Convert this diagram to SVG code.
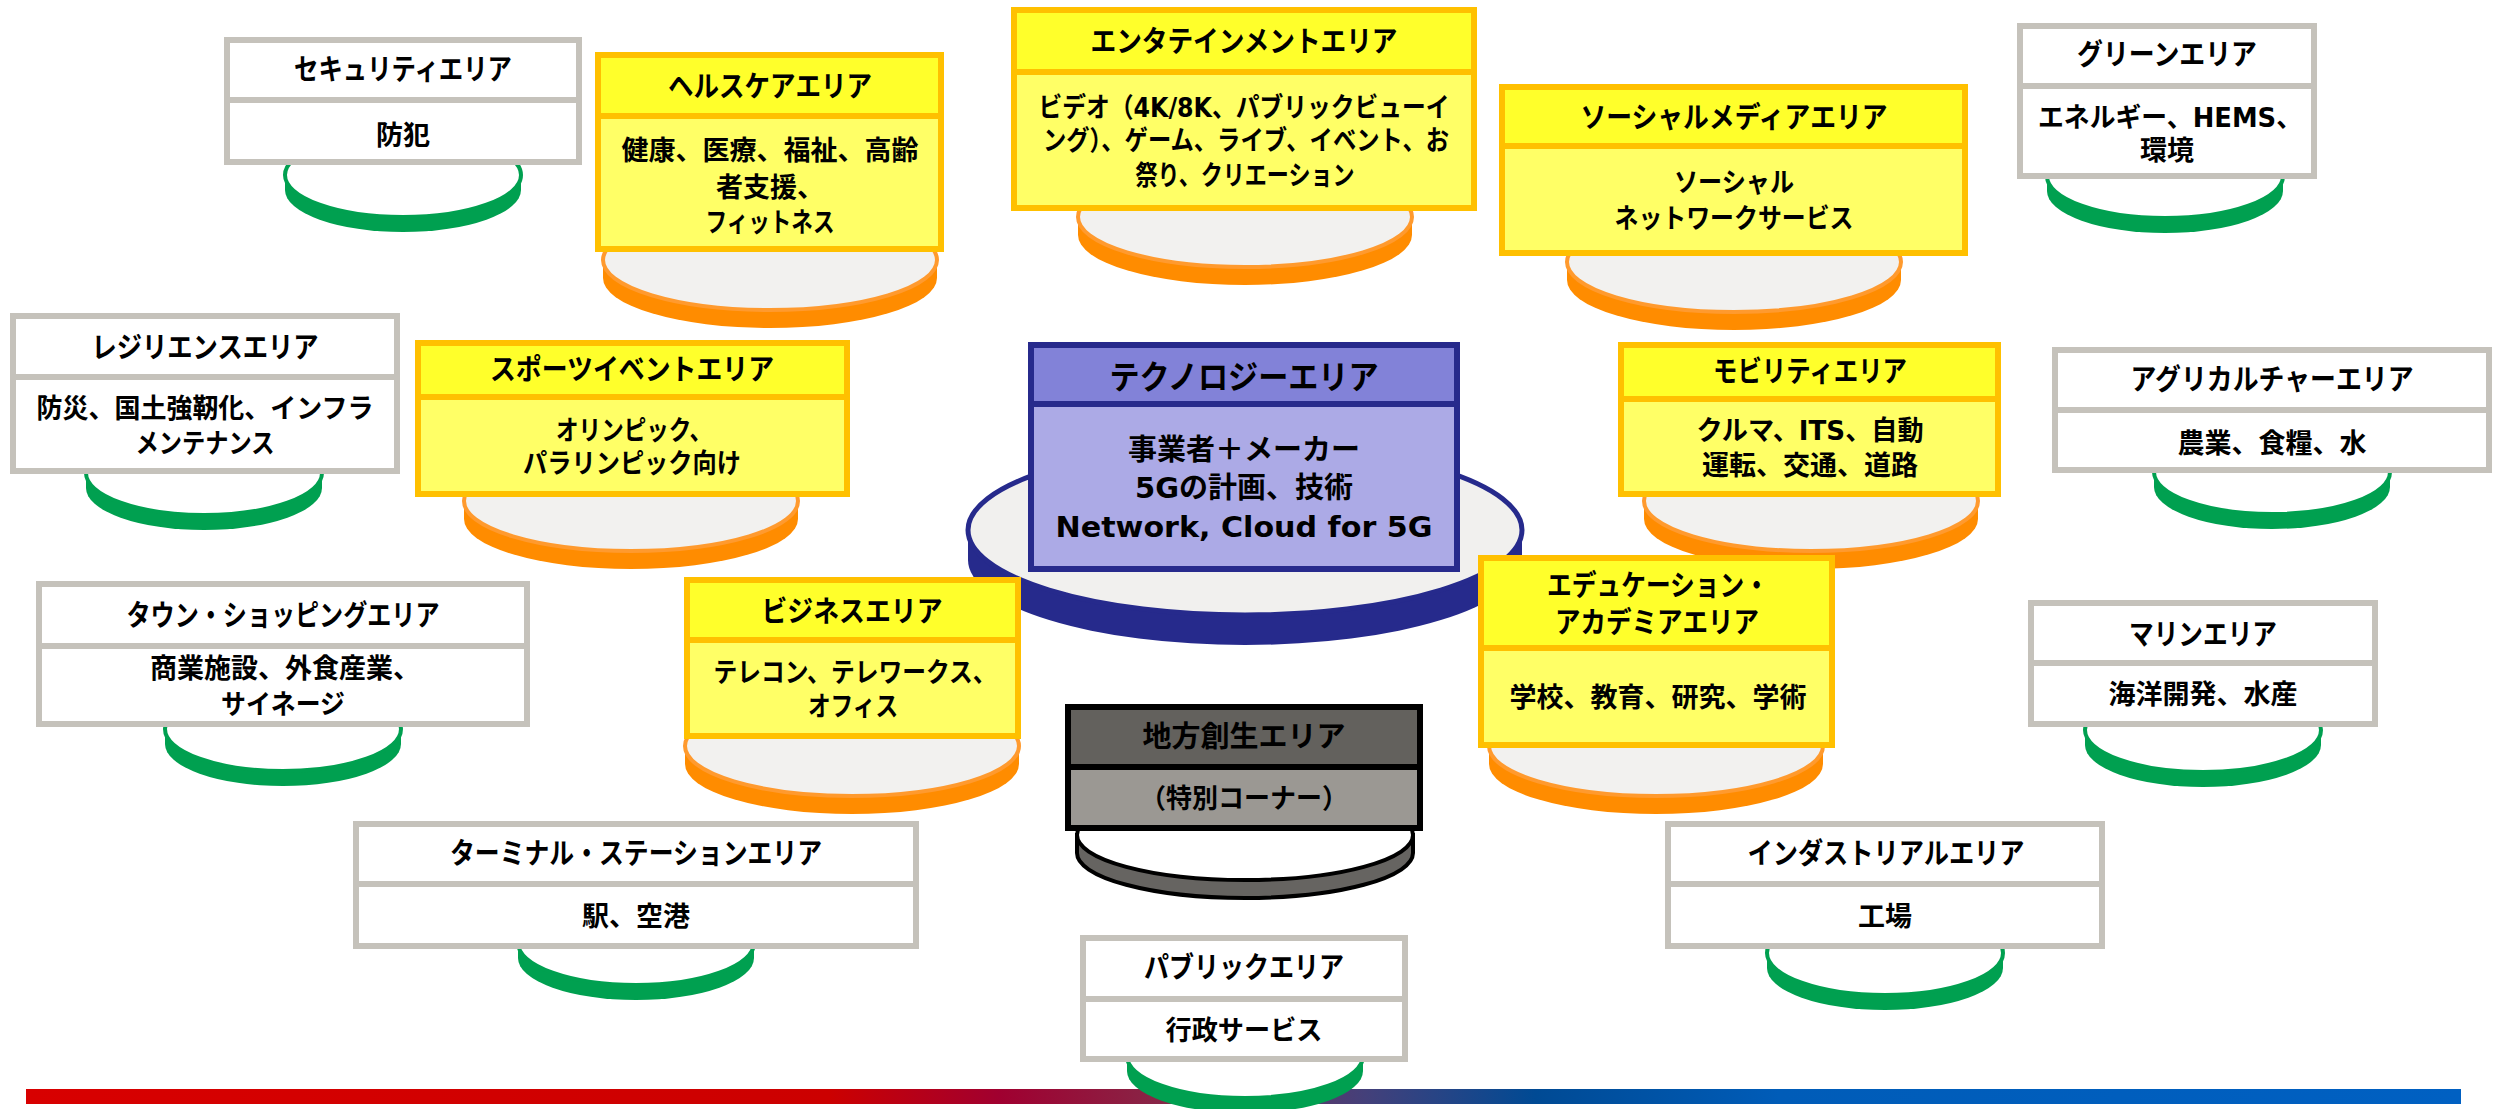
<svg xmlns="http://www.w3.org/2000/svg" width="2495" height="1109" viewBox="0 0 2495 1109">
<defs>
<linearGradient id="barGrad" gradientUnits="userSpaceOnUse" x1="26" y1="0" x2="2461" y2="0">
<stop offset="0" stop-color="#D80000"/>
<stop offset="0.33" stop-color="#CC0000"/>
<stop offset="0.40" stop-color="#A00030"/>
<stop offset="0.47" stop-color="#862848"/>
<stop offset="0.55" stop-color="#44407A"/>
<stop offset="0.62" stop-color="#004A94"/>
<stop offset="0.72" stop-color="#005CB8"/>
<stop offset="1" stop-color="#0060C2"/>
</linearGradient>
<style>
text{font-family:"DejaVu Sans","Noto Sans CJK JP",sans-serif;font-weight:700;fill:#000;text-anchor:middle;dominant-baseline:central}
.t{font-size:29px}
.b{font-size:27px}
.tt{font-size:33px}
.tbd{font-size:29px}
.gb rect{fill:#fff;stroke:#C5C2BB;stroke-width:6}
.yb rect{stroke:#FFC000;stroke-width:6}
.yb .hd{fill:#FFFF2B}
.yb .bd{fill:#FFFF66}
.tb rect{stroke:#272A8C;stroke-width:6}
.tb .hd{fill:#8282D8}
.tb .bd{fill:#ACAAE6}
.lb rect{stroke:#000;stroke-width:6}
.lb .hd{fill:#63615D}
.lb .bd{fill:#9B9893}
.cg .band{fill:#00A050}
.cg .top{fill:#fff;stroke:#00A050;stroke-width:4}
.co .band{fill:#FF8C00}
.co .top{fill:#F2F1EF;stroke:#FF9A2E;stroke-width:4}
.cn .band{fill:#262A8C}
.cn .top{fill:#F1F0EE;stroke:#262A8C;stroke-width:5}
.ck .band{fill:#666461;stroke:#000;stroke-width:4}
.ck .top{fill:#fff;stroke:#000;stroke-width:4}
</style>
</defs>
<rect x="0" y="0" width="2495" height="1109" fill="#fff"/>
<rect id="bottom-bar" x="26" y="1089" width="2435" height="15" fill="url(#barGrad)"/>
<g id="connectors"/>

<g id="security">
<g class="cg"><path class="band" d="M285,175 v15 A118 42 0 0 0 521,190 v-15 Z"/><ellipse class="top" cx="403" cy="175" rx="118" ry="42"/></g>
<g class="gb"><rect x="227" y="40" width="352" height="60"/><rect x="227" y="100" width="352" height="62"/></g>
<text class="t" x="403" y="70" textLength="218" lengthAdjust="spacingAndGlyphs">セキュリティエリア</text>
<text class="b" x="403" y="135">防犯</text>
</g>

<g id="healthcare">
<g class="co"><path class="band" d="M603,260 v18 A167 50 0 0 0 937,278 v-18 Z"/><ellipse class="top" cx="770" cy="260" rx="167" ry="50"/></g>
<g class="yb"><rect class="hd" x="598" y="55" width="343" height="61"/><rect class="bd" x="598" y="116" width="343" height="133"/></g>
<text class="t" x="770" y="87" textLength="204" lengthAdjust="spacingAndGlyphs">ヘルスケアエリア</text>
<text class="b" x="770" y="150">健康、医療、福祉、高齢</text>
<text class="b" x="770" y="187">者支援、</text>
<text class="b" x="770" y="222" textLength="129" lengthAdjust="spacingAndGlyphs">フィットネス</text>
</g>

<g id="entertainment">
<g class="co"><path class="band" d="M1078,217 v18 A167 50 0 0 0 1412,235 v-18 Z"/><ellipse class="top" cx="1245" cy="217" rx="167" ry="50"/></g>
<g class="yb"><rect class="hd" x="1014" y="10" width="460" height="62"/><rect class="bd" x="1014" y="72" width="460" height="136"/></g>
<text class="t" x="1244" y="42" textLength="307" lengthAdjust="spacingAndGlyphs">エンタテインメントエリア</text>
<text class="b" x="1244" y="107" textLength="411" lengthAdjust="spacingAndGlyphs">ビデオ（4K/8K、パブリックビューイ</text>
<text class="b" x="1246" y="140" textLength="406" lengthAdjust="spacingAndGlyphs">ング）、ゲーム、ライブ、イベント、お</text>
<text class="b" x="1245" y="175" textLength="219" lengthAdjust="spacingAndGlyphs">祭り、クリエーション</text>
</g>

<g id="social-media">
<g class="co"><path class="band" d="M1567,262 v18 A167 50 0 0 0 1901,280 v-18 Z"/><ellipse class="top" cx="1734" cy="262" rx="167" ry="50"/></g>
<g class="yb"><rect class="hd" x="1502" y="87" width="463" height="59"/><rect class="bd" x="1502" y="146" width="463" height="107"/></g>
<text class="t" x="1734" y="118" textLength="307" lengthAdjust="spacingAndGlyphs">ソーシャルメディアエリア</text>
<text class="b" x="1734" y="182" textLength="120" lengthAdjust="spacingAndGlyphs">ソーシャル</text>
<text class="b" x="1734" y="218" textLength="239" lengthAdjust="spacingAndGlyphs">ネットワークサービス</text>
</g>

<g id="green">
<g class="cg"><path class="band" d="M2047,176 v15 A118 42 0 0 0 2283,191 v-15 Z"/><ellipse class="top" cx="2165" cy="176" rx="118" ry="42"/></g>
<g class="gb"><rect x="2020" y="26" width="294" height="60"/><rect x="2020" y="86" width="294" height="90"/></g>
<text class="t" x="2167" y="55" textLength="180" lengthAdjust="spacingAndGlyphs">グリーンエリア</text>
<text class="b" x="2170" y="117" textLength="264" lengthAdjust="spacingAndGlyphs">エネルギー、HEMS、</text>
<text class="b" x="2167" y="150">環境</text>
</g>

<g id="resilience">
<g class="cg"><path class="band" d="M86,473 v15 A118 42 0 0 0 322,488 v-15 Z"/><ellipse class="top" cx="204" cy="473" rx="118" ry="42"/></g>
<g class="gb"><rect x="13" y="316" width="384" height="61"/><rect x="13" y="377" width="384" height="94"/></g>
<text class="t" x="205" y="348" textLength="227" lengthAdjust="spacingAndGlyphs">レジリエンスエリア</text>
<text class="b" x="205" y="408" textLength="337" lengthAdjust="spacingAndGlyphs">防災、国土強靭化、インフラ</text>
<text class="b" x="205" y="443" textLength="139" lengthAdjust="spacingAndGlyphs">メンテナンス</text>
</g>

<g id="sports-event">
<g class="co"><path class="band" d="M464,501 v18 A167 50 0 0 0 798,519 v-18 Z"/><ellipse class="top" cx="631" cy="501" rx="167" ry="50"/></g>
<g class="yb"><rect class="hd" x="418" y="343" width="429" height="54"/><rect class="bd" x="418" y="397" width="429" height="97"/></g>
<text class="t" x="632" y="370" textLength="284" lengthAdjust="spacingAndGlyphs">スポーツイベントエリア</text>
<text class="b" x="634" y="430" textLength="156" lengthAdjust="spacingAndGlyphs">オリンピック、</text>
<text class="b" x="632" y="463" textLength="218" lengthAdjust="spacingAndGlyphs">パラリンピック向け</text>
</g>

<g id="technology">
<g class="cn"><path class="band" d="M968,530 v30 A277 85 0 0 0 1522,560 v-30 Z"/><ellipse class="top" cx="1245" cy="530" rx="277" ry="85"/></g>
<g class="tb"><rect class="hd" x="1031" y="345" width="426" height="59"/><rect class="bd" x="1031" y="404" width="426" height="165"/></g>
<text class="tt" x="1244" y="377" textLength="269" lengthAdjust="spacingAndGlyphs">テクノロジーエリア</text>
<text class="tbd" x="1244" y="450">事業者＋メーカー</text>
<text class="tbd" x="1244" y="488">5Gの計画、技術</text>
<text class="tbd" x="1244" y="527" textLength="377" lengthAdjust="spacingAndGlyphs">Network, Cloud for 5G</text>
</g>

<g id="mobility">
<g class="co"><path class="band" d="M1644,501 v18 A167 50 0 0 0 1978,519 v-18 Z"/><ellipse class="top" cx="1811" cy="501" rx="167" ry="50"/></g>
<g class="yb"><rect class="hd" x="1621" y="345" width="377" height="54"/><rect class="bd" x="1621" y="399" width="377" height="95"/></g>
<text class="t" x="1810" y="372" textLength="194" lengthAdjust="spacingAndGlyphs">モビリティエリア</text>
<text class="b" x="1810" y="430" textLength="227" lengthAdjust="spacingAndGlyphs">クルマ、ITS、自動</text>
<text class="b" x="1810" y="465">運転、交通、道路</text>
</g>

<g id="agriculture">
<g class="cg"><path class="band" d="M2154,472 v15 A118 42 0 0 0 2390,487 v-15 Z"/><ellipse class="top" cx="2272" cy="472" rx="118" ry="42"/></g>
<g class="gb"><rect x="2055" y="350" width="434" height="60"/><rect x="2055" y="410" width="434" height="60"/></g>
<text class="t" x="2272" y="380" textLength="283" lengthAdjust="spacingAndGlyphs">アグリカルチャーエリア</text>
<text class="b" x="2272" y="443">農業、食糧、水</text>
</g>

<g id="town-shopping">
<g class="cg"><path class="band" d="M165,729 v15 A118 42 0 0 0 401,744 v-15 Z"/><ellipse class="top" cx="283" cy="729" rx="118" ry="42"/></g>
<g class="gb"><rect x="39" y="584" width="488" height="62"/><rect x="39" y="646" width="488" height="78"/></g>
<text class="t" x="283" y="616" textLength="313" lengthAdjust="spacingAndGlyphs">タウン・ショッピングエリア</text>
<text class="b" x="285" y="668">商業施設、外食産業、</text>
<text class="b" x="283" y="704" textLength="124" lengthAdjust="spacingAndGlyphs">サイネージ</text>
</g>

<g id="business">
<g class="co"><path class="band" d="M685,746 v18 A167 50 0 0 0 1019,764 v-18 Z"/><ellipse class="top" cx="852" cy="746" rx="167" ry="50"/></g>
<g class="yb"><rect class="hd" x="687" y="580" width="331" height="60"/><rect class="bd" x="687" y="640" width="331" height="96"/></g>
<text class="t" x="852" y="612" textLength="181" lengthAdjust="spacingAndGlyphs">ビジネスエリア</text>
<text class="b" x="855" y="672" textLength="283" lengthAdjust="spacingAndGlyphs">テレコン、テレワークス、</text>
<text class="b" x="853" y="706" textLength="90" lengthAdjust="spacingAndGlyphs">オフィス</text>
</g>

<g id="terminal-station">
<g class="cg"><path class="band" d="M518,943 v15 A118 42 0 0 0 754,958 v-15 Z"/><ellipse class="top" cx="636" cy="943" rx="118" ry="42"/></g>
<g class="gb"><rect x="356" y="824" width="560" height="60"/><rect x="356" y="884" width="560" height="62"/></g>
<text class="t" x="636" y="854" textLength="372" lengthAdjust="spacingAndGlyphs">ターミナル・ステーションエリア</text>
<text class="b" x="636" y="916">駅、空港</text>
</g>

<g id="regional-revitalization">
<g class="ck"><path class="band" d="M1077,835 v18 A168 45 0 0 0 1413,853 v-18 Z"/><ellipse class="top" cx="1245" cy="835" rx="168" ry="45"/></g>
<g class="lb"><rect class="hd" x="1068" y="707" width="352" height="60"/><rect class="bd" x="1068" y="767" width="352" height="61"/></g>
<text class="t" x="1244" y="737">地方創生エリア</text>
<text class="b" x="1244" y="798" textLength="208" lengthAdjust="spacingAndGlyphs">（特別コーナー）</text>
</g>

<g id="public">
<g class="cg"><path class="band" d="M1127,1056 v15 A118 42 0 0 0 1363,1071 v-15 Z"/><ellipse class="top" cx="1245" cy="1056" rx="118" ry="42"/></g>
<g class="gb"><rect x="1083" y="938" width="322" height="61"/><rect x="1083" y="999" width="322" height="60"/></g>
<text class="t" x="1244" y="968" textLength="200" lengthAdjust="spacingAndGlyphs">パブリックエリア</text>
<text class="b" x="1244" y="1030" textLength="157" lengthAdjust="spacingAndGlyphs">行政サービス</text>
</g>

<g id="education-academia">
<g class="co"><path class="band" d="M1489,746 v18 A167 50 0 0 0 1823,764 v-18 Z"/><ellipse class="top" cx="1656" cy="746" rx="167" ry="50"/></g>
<g class="yb"><rect class="hd" x="1481" y="558" width="351" height="90"/><rect class="bd" x="1481" y="648" width="351" height="97"/></g>
<text class="t" x="1658" y="586" textLength="222" lengthAdjust="spacingAndGlyphs">エデュケーション・</text>
<text class="t" x="1657" y="623" textLength="204" lengthAdjust="spacingAndGlyphs">アカデミアエリア</text>
<text class="b" x="1658" y="697">学校、教育、研究、学術</text>
</g>

<g id="marine">
<g class="cg"><path class="band" d="M2085,730 v15 A118 42 0 0 0 2321,745 v-15 Z"/><ellipse class="top" cx="2203" cy="730" rx="118" ry="42"/></g>
<g class="gb"><rect x="2031" y="603" width="344" height="60"/><rect x="2031" y="663" width="344" height="61"/></g>
<text class="t" x="2203" y="635" textLength="148" lengthAdjust="spacingAndGlyphs">マリンエリア</text>
<text class="b" x="2203" y="694">海洋開発、水産</text>
</g>

<g id="industrial">
<g class="cg"><path class="band" d="M1767,953 v15 A118 42 0 0 0 2003,968 v-15 Z"/><ellipse class="top" cx="1885" cy="953" rx="118" ry="42"/></g>
<g class="gb"><rect x="1668" y="824" width="434" height="60"/><rect x="1668" y="884" width="434" height="62"/></g>
<text class="t" x="1886" y="854" textLength="277" lengthAdjust="spacingAndGlyphs">インダストリアルエリア</text>
<text class="b" x="1885" y="916">工場</text>
</g>
</svg>
